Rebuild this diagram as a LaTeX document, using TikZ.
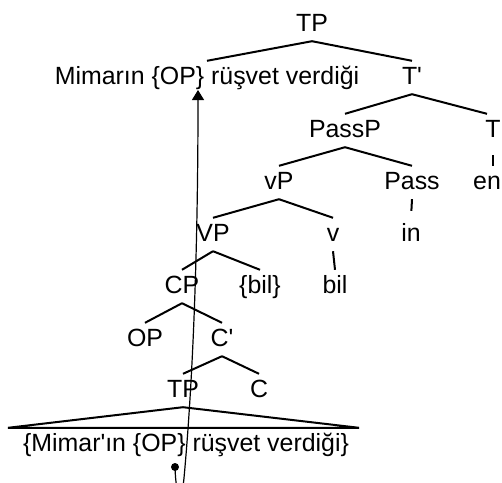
\documentclass[tikz,border=0pt]{standalone}
\usepackage{fontspec}
\setmainfont{Liberation Sans}[Ligatures=TeXOff]
\usetikzlibrary{arrows.meta}

\begin{document}
\begin{tikzpicture}[x=1pt, y=-1pt,
    lbl/.style={inner sep=0pt, text height=23pt, text depth=10pt, anchor=base, font=\fontsize{24.9}{30}\selectfont},
    branch/.style={line width=2pt}]
  \clip (0,0) rectangle (502,482);

  \node[lbl] (tp) at (312,31) {TP};
  \node[lbl] (subj) at (207,84) {Mimarın {\{}OP{\}} rüşvet verdiği};
  \node[lbl] (tbar) at (412,84) {T'};
  \node[lbl] (passp) at (345,137) {PassP};
  \node[lbl] (t) at (493,137) {T};
  \node[lbl] (vp) at (279,189) {vP};
  \node[lbl] (pass) at (412,189) {Pass};
  \node[lbl] (en) at (487,189) {en};
  \node[lbl] (bigvp) at (213,241) {VP};
  \node[lbl] (littlev) at (333,241) {v};
  \node[lbl] (passin) at (411,241) {in};
  \node[lbl] (cp) at (182,293) {CP};
  \node[lbl] (bilc) at (260,293) {\{bil\}};
  \node[lbl] (bil) at (335,293) {bil};
  \node[lbl] (op) at (145,346) {OP};
  \node[lbl] (cbar) at (222,346) {C'};
  \node[lbl] (tpl) at (183,397) {TP};
  \node[lbl] (c) at (259,397) {C};
  \node[lbl] (clause) at (186,451) {\{Mimar'ın \{OP\} rüşvet verdiği\}};

  \foreach \p/\c in {tp/subj, tp/tbar, tbar/passp, passp/vp, passp/pass, vp/bigvp, vp/littlev, bigvp/cp, bigvp/bilc, cp/op, cp/cbar, cbar/tpl, cbar/c}
    \draw[branch] (\p.south) -- (\c.north);
  \draw[branch] (tbar.south) -- ([xshift=-6pt]t.north);
  \draw[branch, shorten <=8pt] (t.south) -- ([xshift=6pt]en.north);
  \draw[branch, shorten >=7pt] (pass.south) -- (passin.north);
  \draw[branch] (littlev.south) -- (bil.north);
  \draw[branch] (tpl.south) -- ([xshift=-178pt]clause.north) -- ([xshift=173pt]clause.north) -- cycle;

  \coordinate (trace) at (175,467);
  \coordinate (gap) at (198,90);
  \fill (trace) circle (4pt);
  \draw[line width=1.2pt, -{Triangle[length=10pt,width=12pt]}] (trace) .. controls (176,500) and (182,500) .. (184,478) .. controls (193,380) and (198,250) .. (gap);
\end{tikzpicture}
\end{document}
